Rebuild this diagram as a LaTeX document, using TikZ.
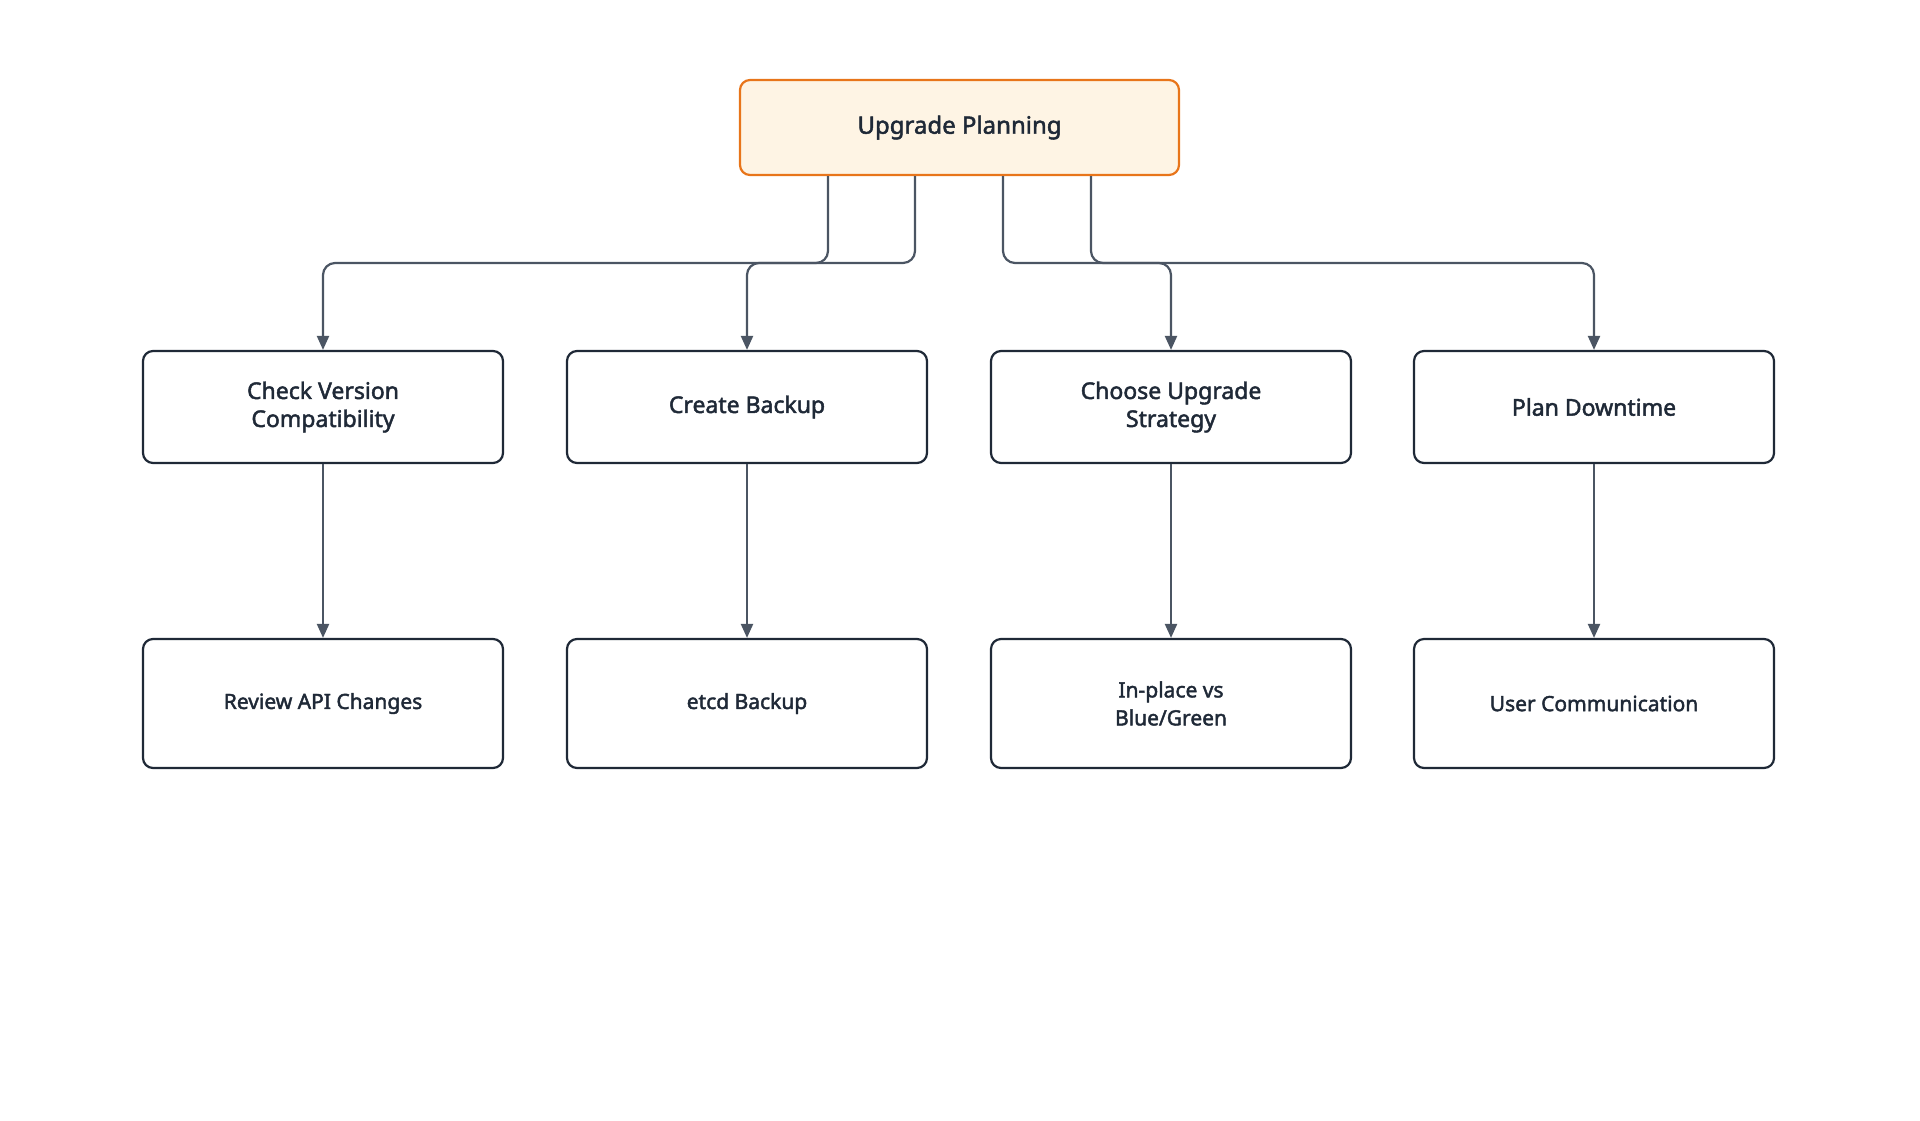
\documentclass[tikz,border=0pt]{standalone}
\usepackage{fontspec}
\setmainfont{Noto Sans}[AutoFakeBold=2]
\usetikzlibrary{arrows.meta}
\definecolor{ob}{HTML}{E8751A}
\definecolor{of}{HTML}{FEF4E4}
\definecolor{db}{HTML}{1F2937}
\definecolor{ar}{HTML}{4B5563}
\begin{document}
\begin{tikzpicture}[x=0.5pt,y=-0.5pt,
 box/.style={draw=db,line width=1.1pt,rounded corners=5pt,fill=white,minimum width=180pt,minimum height=56pt,align=center,font=\fontsize{11.5}{14}\selectfont\bfseries,text=db,inner sep=0pt},
 low/.style={box,minimum height=64.5pt,font=\fontsize{10.5}{14}\selectfont\bfseries},
 root/.style={box,draw=ob,fill=of,minimum width=219.5pt,minimum height=47.5pt,font=\fontsize{12}{14}\selectfont\bfseries},
 conn/.style={draw=ar,line width=1.1pt,rounded corners=6pt,-{Triangle[length=7pt,width=6pt]}}]
\useasboundingbox (0,0) rectangle (1920,1120);
\node[root] (r) at (959.5,127.5) {Upgrade Planning};
\node[box] (a) at (323,407) {Check Version\\Compatibility};
\node[box] (b) at (747,407) {Create Backup};
\node[box] (c) at (1171,407) {Choose Upgrade\\Strategy};
\node[box] (d) at (1594,407) {Plan Downtime};
\node[low] (a2) at (323,703.5) {Review API Changes};
\node[low] (b2) at (747,703.5) {etcd Backup};
\node[low] (c2) at (1171,703.5) {In-place vs\\Blue/Green};
\node[low] (d2) at (1594,703.5) {User Communication};
\coordinate (e1) at (828,0); \coordinate (e2) at (915,0);
\coordinate (e3) at (1003,0); \coordinate (e4) at (1091,0);
\coordinate (lv) at (0,263);
\draw[conn] (r.south -| e1) -- (lv -| e1) -- (lv -| a) -- (a.north);
\draw[conn] (r.south -| e2) -- (lv -| e2) -- (lv -| b) -- (b.north);
\draw[conn] (r.south -| e3) -- (lv -| e3) -- (lv -| c) -- (c.north);
\draw[conn] (r.south -| e4) -- (lv -| e4) -- (lv -| d) -- (d.north);
\foreach \u/\v in {a/a2,b/b2,c/c2,d/d2}{\draw[conn] (\u.south) -- (\v.north);}
\end{tikzpicture}
\end{document}
